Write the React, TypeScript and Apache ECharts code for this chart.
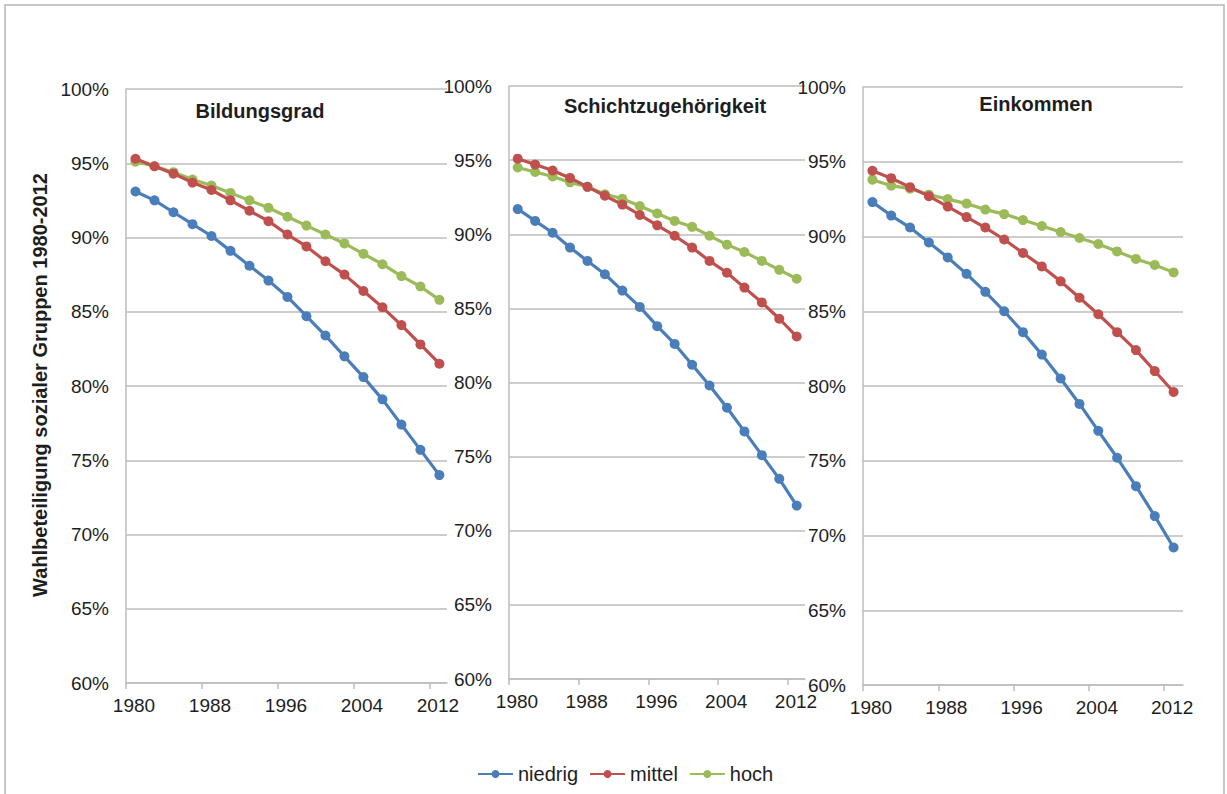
import React, { useEffect, useRef } from "react";
import * as echarts from "echarts";

const years = [1981, 1983, 1985, 1987, 1989, 1991, 1993, 1995, 1997, 1999, 2001, 2003, 2005, 2007, 2009, 2011, 2013];
const tickYears = [1980, 1988, 1996, 2004, 2012];
const panelTitles = ["Bildungsgrad", "Schichtzugehörigkeit", "Einkommen"];
const seriesNames = ["niedrig", "mittel", "hoch"];
const yAxisName = "Wahlbeteiligung sozialer Gruppen 1980-2012";

// Bildungsgrad
const bildungNiedrig = [93.1, 92.5, 91.7, 90.9, 90.1, 89.1, 88.1, 87.1, 86.0, 84.7, 83.4, 82.0, 80.6, 79.1, 77.4, 75.7, 74.0];
const bildungMittel = [95.3, 94.8, 94.3, 93.7, 93.2, 92.5, 91.8, 91.1, 90.2, 89.4, 88.4, 87.5, 86.4, 85.3, 84.1, 82.8, 81.5];
const bildungHoch = [95.1, 94.8, 94.4, 93.9, 93.5, 93.0, 92.5, 92.0, 91.4, 90.8, 90.2, 89.6, 88.9, 88.2, 87.4, 86.7, 85.8];

// Schichtzugehörigkeit
const schichtNiedrig = [91.7, 90.9, 90.1, 89.1, 88.2, 87.3, 86.2, 85.1, 83.8, 82.6, 81.2, 79.8, 78.3, 76.7, 75.1, 73.5, 71.7];
const schichtMittel = [95.1, 94.7, 94.3, 93.8, 93.2, 92.6, 92.0, 91.3, 90.6, 89.9, 89.1, 88.2, 87.4, 86.4, 85.4, 84.3, 83.1];
const schichtHoch = [94.5, 94.2, 93.9, 93.5, 93.2, 92.7, 92.4, 91.9, 91.4, 90.9, 90.5, 89.9, 89.3, 88.8, 88.2, 87.6, 87.0];

// Einkommen
const einkommenNiedrig = [92.3, 91.4, 90.6, 89.6, 88.6, 87.5, 86.3, 85.0, 83.6, 82.1, 80.5, 78.8, 77.0, 75.2, 73.3, 71.3, 69.2];
const einkommenMittel = [94.4, 93.9, 93.3, 92.7, 92.0, 91.3, 90.6, 89.8, 88.9, 88.0, 87.0, 85.9, 84.8, 83.6, 82.4, 81.0, 79.6];
const einkommenHoch = [93.8, 93.4, 93.2, 92.8, 92.5, 92.2, 91.8, 91.5, 91.1, 90.7, 90.3, 89.9, 89.5, 89.0, 88.5, 88.1, 87.6];

const panelData = [
  [bildungNiedrig, bildungMittel, bildungHoch],
  [schichtNiedrig, schichtMittel, schichtHoch],
  [einkommenNiedrig, einkommenMittel, einkommenHoch],
];

const colors = ["#4a7ebb", "#c0504d", "#9bbb59"];
const gridBoxes = [
  { left: 126, top: 89, width: 321, height: 594, xMax: 2013.8 },
  { left: 509, top: 86, width: 296, height: 593, xMax: 2013.95 },
  { left: 863, top: 87, width: 320, height: 598, xMax: 2014 },
];
const titleCenters = [
  { x: 260, y: 111 },
  { x: 665, y: 106 },
  { x: 1036, y: 104 },
];

const FONT = "Liberation Sans, Arial, sans-serif";
const AXIS_GRAY = "#bdbdbd";
const TEXT = "#1e1e1e";

export default function App() {
  const ref = useRef<HTMLDivElement>(null);

  useEffect(() => {
    if (!ref.current) return;
    const chart = echarts.init(ref.current, null, { renderer: "svg" });

    const grid = gridBoxes.map((g) => ({
      left: g.left,
      top: g.top,
      width: g.width,
      height: g.height,
      containLabel: false,
    }));

    const xAxis = gridBoxes.map((g, i) => ({
      type: "value",
      gridIndex: i,
      min: 1980,
      max: g.xMax,
      interval: 8,
      axisLine: { show: true, onZero: false, lineStyle: { color: AXIS_GRAY, width: 1.5 } },
      axisTick: { show: true, length: 6, customValues: tickYears, lineStyle: { color: AXIS_GRAY, width: 1.5 } },
      axisLabel: {
        customValues: tickYears,
        fontSize: 19,
        fontFamily: FONT,
        color: TEXT,
        margin: 13,
        padding: [0, 0, 0, 16],
        formatter: (v: number) => String(v),
      },
      splitLine: { show: false },
    }));

    const yAxis = gridBoxes.map((_, i) => ({
      type: "value",
      gridIndex: i,
      min: 60,
      max: 100,
      interval: 5,
      axisLine: { show: true, lineStyle: { color: AXIS_GRAY, width: 1.5 } },
      axisTick: { show: false },
      axisLabel: {
        fontSize: 19,
        fontFamily: FONT,
        color: TEXT,
        margin: 17,
        formatter: "{value}%",
      },
      splitLine: { show: true, lineStyle: { color: AXIS_GRAY, width: 1.5 } },
    }));

    const series: any[] = [];
    panelData.forEach((panel, pi) => {
      panel.forEach((vals, si) => {
        series.push({
          name: seriesNames[si],
          type: "line",
          xAxisIndex: pi,
          yAxisIndex: pi,
          data: years.map((y, k) => [y, vals[k]]),
          symbol: "circle",
          symbolSize: 10,
          showSymbol: true,
          lineStyle: { color: colors[si], width: 3.2 },
          itemStyle: { color: colors[si] },
          z: 3 - si,
        });
      });
    });

    const graphic: any[] = [
      {
        type: "rect",
        shape: { x: 5, y: 5, width: 1219, height: 900 },
        style: { fill: "none", stroke: "#b5b5b5", lineWidth: 1.5 },
        silent: true,
      },
      {
        type: "text",
        x: 40,
        y: 385,
        rotation: Math.PI / 2,
        style: {
          text: yAxisName,
          font: `bold 20px ${FONT}`,
          fill: TEXT,
          textAlign: "center",
          textVerticalAlign: "middle",
        },
      },
      ...panelTitles.map((t, i) => ({
        type: "text",
        x: titleCenters[i].x,
        y: titleCenters[i].y,
        style: {
          text: t,
          font: `bold 20px ${FONT}`,
          fill: TEXT,
          textAlign: "center",
          textVerticalAlign: "middle",
        },
      })),
    ];

    chart.setOption({
      animation: false,
      backgroundColor: "#ffffff",
      grid,
      xAxis,
      yAxis,
      series,
      graphic,
      legend: {
        data: seriesNames,
        left: 472,
        top: 759,
        itemWidth: 35,
        itemHeight: 10,
        itemGap: 11,
        textStyle: { fontSize: 20, fontFamily: FONT, color: TEXT },
      },
    });

    return () => chart.dispose();
  }, []);

  return (
    <div
      ref={ref}
      style={{ position: "absolute", left: 0, top: 0, width: 1227, height: 794 }}
    />
  );
}
